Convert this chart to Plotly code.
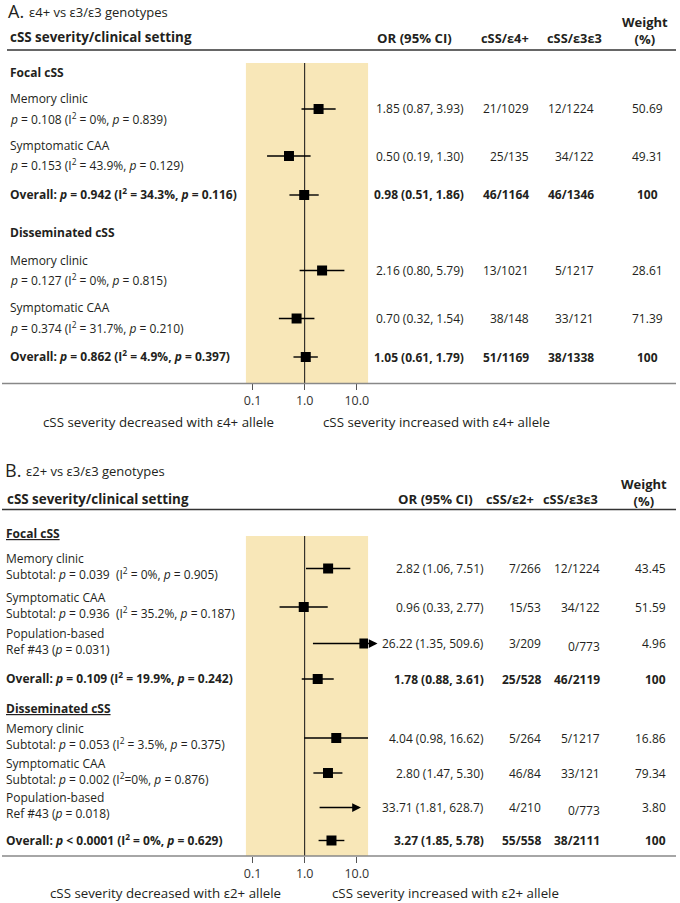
import math
import plotly.graph_objects as go

W, H = 680, 903
FONT = "Open Sans"
TXT = "#231f20"
SHADE = "#f8e7b8"

# ---------------- Data: panel A (e4+ vs e3/e3) ----------------
A_TITLE = "ε4+ vs ε3/ε3 genotypes"
A_SECTIONS = ["Focal cSS", "Disseminated cSS"]
A_LABELS = ["Memory clinic", "Symptomatic CAA", None, "Memory clinic", "Symptomatic CAA", None]
A_STATS = [
    "<i>p</i> = 0.108 (I<sup>2</sup> = 0%, <i>p</i> = 0.839)",
    "<i>p</i> = 0.153 (I<sup>2</sup> = 43.9%, <i>p</i> = 0.129)",
    "<b>Overall: <i>p</i> = 0.942 (I<sup>2</sup> = 34.3%, <i>p</i> = 0.116)</b>",
    "<i>p</i> = 0.127 (I<sup>2</sup> = 0%, <i>p</i> = 0.815)",
    "<i>p</i> = 0.374 (I<sup>2</sup> = 31.7%, <i>p</i> = 0.210)",
    "<b>Overall: <i>p</i> = 0.862 (I<sup>2</sup> = 4.9%, <i>p</i> = 0.397)</b>",
]
A_OR = [1.85, 0.50, 0.98, 2.16, 0.70, 1.05]
A_LO = [0.87, 0.19, 0.51, 0.80, 0.32, 0.61]
A_HI = [3.93, 1.30, 1.86, 5.79, 1.54, 1.79]
A_N_CARRIER = ["21/1029", "25/135", "46/1164", "13/1021", "38/148", "51/1169"]
A_N_E33 = ["12/1224", "34/122", "46/1346", "5/1217", "33/121", "38/1338"]
A_WEIGHT = ["50.69", "49.31", "100", "28.61", "71.39", "100"]
A_IS_TOTAL = [False, False, True, False, False, True]
A_COLS = ["OR (95% CI)", "cSS/ε4+", "cSS/ε3ε3"]
A_FOOT = ["cSS severity decreased with ε4+ allele", "cSS severity increased with ε4+ allele"]

# ---------------- Data: panel B (e2+ vs e3/e3) ----------------
B_TITLE = "ε2+ vs ε3/ε3 genotypes"
B_SECTIONS = ["Focal cSS", "Disseminated cSS"]
B_LABELS = ["Memory clinic", "Symptomatic CAA", "Population-based", None,
            "Memory clinic", "Symptomatic CAA", "Population-based", None]
B_STATS = [
    "Subtotal: <i>p</i> = 0.039 \u00a0(I<sup>2</sup> = 0%, <i>p</i> = 0.905)",
    "Subtotal: <i>p</i> = 0.936 \u00a0(I<sup>2</sup> = 35.2%, <i>p</i> = 0.187)",
    "Ref #43 (<i>p</i> = 0.031)",
    "<b>Overall: <i>p</i> = 0.109 (I<sup>2</sup> = 19.9%, <i>p</i> = 0.242)</b>",
    "Subtotal: <i>p</i> = 0.053 (I<sup>2</sup> = 3.5%, <i>p</i> = 0.375)",
    "Subtotal: <i>p</i> = 0.002 (I<sup>2</sup>=0%, <i>p</i> = 0.876)",
    "Ref #43 (<i>p</i> = 0.018)",
    "<b>Overall: <i>p</i> &lt; 0.0001 (I<sup>2</sup> = 0%, <i>p</i> = 0.629)</b>",
]
B_OR = [2.82, 0.96, 26.22, 1.78, 4.04, 2.80, 33.71, 3.27]
B_LO = [1.06, 0.33, 1.35, 0.88, 0.98, 1.47, 1.81, 1.85]
B_HI = [7.51, 2.77, 509.6, 3.61, 16.62, 5.30, 628.7, 5.78]
B_N_CARRIER = ["7/266", "15/53", "3/209", "25/528", "5/264", "46/84", "4/210", "55/558"]
B_N_E33 = ["12/1224", "34/122", "0/773", "46/2119", "5/1217", "33/121", "0/773", "38/2111"]
B_WEIGHT = ["43.45", "51.59", "4.96", "100", "16.86", "79.34", "3.80", "100"]
B_IS_TOTAL = [False, False, False, True, False, False, False, True]
B_COLS = ["OR (95% CI)", "cSS/ε2+", "cSS/ε3ε3"]
B_FOOT = ["cSS severity decreased with ε2+ allele", "cSS severity increased with ε2+ allele"]

TICK_VALS = [0.1, 1, 10]
TICK_TEXT = ["0.1", "1.0", "10.0"]
WEIGHT_HEADER = "<b>Weight<br>(%)</b>"

# ---------------- Layout (pixel positions) ----------------
A_ROW_Y = [109, 156, 195, 270.5, 318.5, 357]
A_SEC_Y = [72.5, 232.5]
B_ROW_Y = [568.5, 607, 643.5, 679, 738, 773, 807.5, 840.5]
B_SEC_Y = [533, 708]
# display caps for CIs running off the plot (arrow tips, clamped marker)
B_ARROW_TIP = [None, None, 25.0, None, None, None, 12.0, None]
B_MARK_SHOWN = [True, True, True, True, True, True, False, True]
MARK_CAP = 14.0

X_ONE, DECADE = 304.0, 52.35   # pixel of OR=1 and width of one decade


def fx(px):
    return px / W


def fy(py):
    return 1 - py / H


def fmt(v):
    return f"{v:.1f}" if v >= 100 else f"{v:.2f}"


fig = go.Figure()
annots = []
shapes = []


def text(s, x, y, anchor="left", size=12, color=TXT):
    annots.append(dict(text=s, x=fx(x), y=fy(y), xref="paper", yref="paper",
                       xanchor=anchor, yanchor="middle", showarrow=False, align=anchor,
                       font=dict(family=FONT, size=size, color=color)))


def hline(y, x0, x1, color, width):
    shapes.append(dict(type="line", xref="paper", yref="paper", x0=fx(x0), x1=fx(x1),
                       y0=fy(y), y1=fy(y), line=dict(color=color, width=width)))


def panel(xa, ya, top, bottom, row_y, or_, lo, hi, arrow_tip, shown):
    xname = "x" if xa == "xaxis" else "x2"
    yname = "y" if ya == "yaxis" else "y2"
    left = (245 - X_ONE) / DECADE
    right = (367.7 - X_ONE) / DECADE
    fig.layout[xa] = dict(type="log", domain=[fx(245), fx(367.7)], range=[left, right],
                          anchor=yname, tickvals=TICK_VALS, ticktext=TICK_TEXT,
                          ticks="outside", ticklen=6, tickwidth=1, tickcolor="#555",
                          showgrid=False, zeroline=False, showline=False,
                          tickfont=dict(family=FONT, size=12.5, color="#333"),
                          fixedrange=True)
    fig.layout[ya] = dict(domain=[fy(bottom), fy(top)], range=[bottom, top],
                          visible=False, showgrid=False, zeroline=False, fixedrange=True)
    # reference line at OR = 1
    fig.add_trace(go.Scatter(x=[1, 1], y=[top, bottom], mode="lines",
                             line=dict(color="#111", width=1), xaxis=xname, yaxis=yname,
                             hoverinfo="skip", showlegend=False))
    wx, wy, mx, my = [], [], [], []
    for i in range(len(or_)):
        if arrow_tip[i] is None:
            wx += [lo[i], hi[i], None]
            wy += [row_y[i], row_y[i], None]
        else:
            annots.append(dict(x=math.log10(arrow_tip[i]), y=row_y[i], ax=math.log10(lo[i]),
                               ay=row_y[i], xref=xname, yref=yname, axref=xname, ayref=yname,
                               text="", showarrow=True, arrowhead=2, arrowsize=1.25,
                               arrowwidth=1.4, arrowcolor="#000", standoff=0, startstandoff=0))
        if shown[i]:
            mx.append(min(or_[i], MARK_CAP))
            my.append(row_y[i])
    fig.add_trace(go.Scatter(x=wx, y=wy, mode="lines", line=dict(color="#000", width=1.4),
                             xaxis=xname, yaxis=yname, hoverinfo="skip", showlegend=False))
    fig.add_trace(go.Scatter(x=mx, y=my, mode="markers",
                             marker=dict(symbol="square", size=10, color="#000"),
                             xaxis=xname, yaxis=yname, showlegend=False))


# ---------------- Panel A ----------------
panel("xaxis", "yaxis", 63, 383, A_ROW_Y, A_OR, A_LO, A_HI, [None] * 6, [True] * 6)
text("A.", 4.5, 11.5, size=18)
text(A_TITLE, 25.5, 12, size=13)
text("<b>cSS severity/clinical setting</b>", 6, 37.5, size=13.4)
text(f"<b>{A_COLS[0]}</b>", 414, 38.5, "center", 13.2)
text(f"<b>{A_COLS[1]}</b>", 505, 38.5, "center", 12.8)
text(f"<b>{A_COLS[2]}</b>", 575, 38.5, "center", 12.8)
text(WEIGHT_HEADER, 646, 31, "center", 13)
hline(50, 5, 677, "#333", 1.5)
for s, y in zip(A_SECTIONS, A_SEC_Y):
    text(f"<b>{s}</b>", 6, y, size=12)
for i, y in enumerate(A_ROW_Y):
    b0, b1 = ("<b>", "</b>") if A_IS_TOTAL[i] else ("", "")
    if A_LABELS[i] is None:
        text(A_STATS[i], 6, y - 1.5, size=12)
    else:
        text(A_LABELS[i], 6, y - 10.5, size=12)
        text(A_STATS[i], 6, y + 9.5, size=12)
    text(f"{b0}{fmt(A_OR[i])} ({fmt(A_LO[i])}, {fmt(A_HI[i])}){b1}", 466, y, "right", 12)
    text(f"{b0}{A_N_CARRIER[i]}{b1}", 531, y, "right", 12)
    text(f"{b0}{A_N_E33[i]}{b1}", 597, y, "right", 12)
    text(f"{b0}{A_WEIGHT[i]}{b1}", 648.5, y, "center", 12)
hline(383.5, 0, 677, "#888", 1.5)
text(A_FOOT[0], 157.5, 422, "center", 13.3)
text(A_FOOT[1], 436, 422, "center", 13.3)

# ---------------- Panel B ----------------
panel("xaxis2", "yaxis2", 536, 856, B_ROW_Y, B_OR, B_LO, B_HI, B_ARROW_TIP, B_MARK_SHOWN)
text("B.", 1.5, 469.5, size=18)
text(B_TITLE, 22.5, 470.5, size=13)
text("<b>cSS severity/clinical setting</b>", 3, 498.5, size=13.4)
text(f"<b>{B_COLS[0]}</b>", 435, 499, "center", 13.2)
text(f"<b>{B_COLS[1]}</b>", 510, 499, "center", 12.8)
text(f"<b>{B_COLS[2]}</b>", 571, 499, "center", 12.8)
text(WEIGHT_HEADER, 645, 492, "center", 13)
hline(509.5, 0, 677, "#333", 1.5)
for s, y in zip(B_SECTIONS, B_SEC_Y):
    text(f"<b><span style='text-decoration:underline'>{s}</span></b>", 2.5, y, size=12)
for i, y in enumerate(B_ROW_Y):
    b0, b1 = ("<b>", "</b>") if B_IS_TOTAL[i] else ("", "")
    if B_LABELS[i] is None:
        text(B_STATS[i], 2.5, y - 1, size=12)
    else:
        text(f"{B_LABELS[i]}<br>{B_STATS[i]}", 2.5, y - 2, size=12)
    text(f"{b0}{fmt(B_OR[i])} ({fmt(B_LO[i])}, {fmt(B_HI[i])}){b1}", 486, y, "right", 12)
    text(f"{b0}{B_N_CARRIER[i]}{b1}", 543, y, "right", 12)
    text(f"{b0}{B_N_E33[i]}{b1}", 603, y + (2.5 if B_N_E33[i].startswith("0/") else 0), "right", 12)
    text(f"{b0}{B_WEIGHT[i]}{b1}", 669, y, "right", 12)
hline(856, 0, 677, "#888", 1.5)
text(B_FOOT[0], 164.5, 893, "center", 13.3)
text(B_FOOT[1], 445, 893, "center", 13.3)

fig.update_layout(width=W, height=H, margin=dict(l=0, r=0, t=0, b=0),
                  paper_bgcolor="white", plot_bgcolor=SHADE,
                  annotations=annots, shapes=shapes, showlegend=False,
                  font=dict(family=FONT, color=TXT))
fig.write_html("out.html", config={"displayModeBar": False},
               post_script="document.body.style.margin='0px';document.body.style.overflow='hidden';")
